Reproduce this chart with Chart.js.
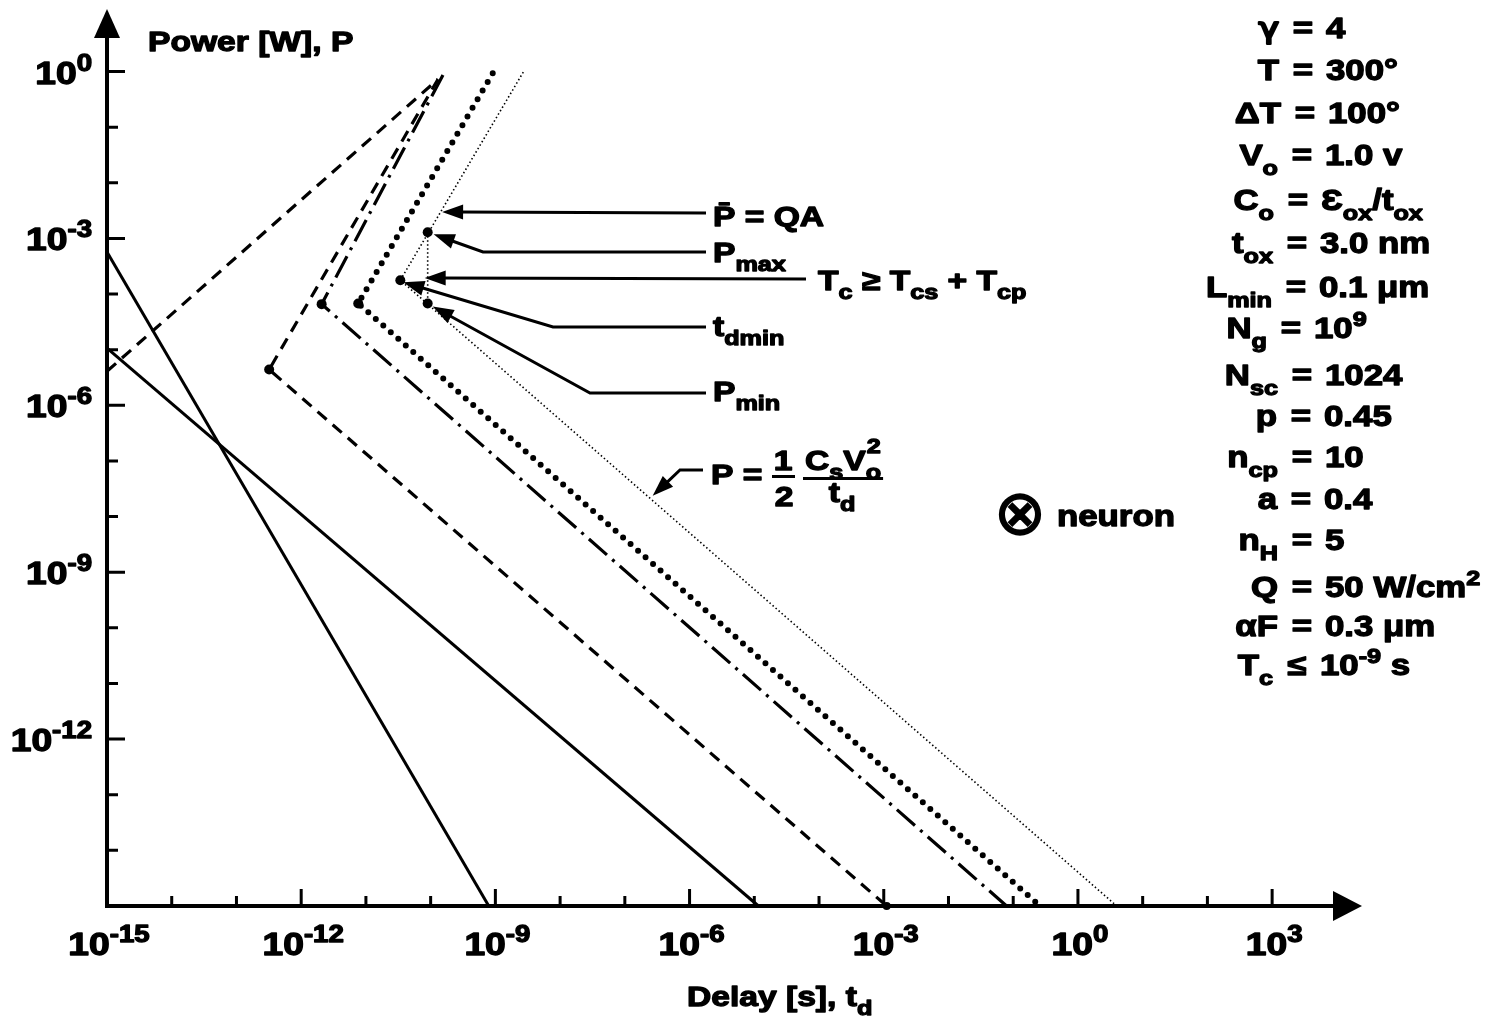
<!DOCTYPE html>
<html>
<head>
<meta charset="utf-8">
<title>Power versus delay</title>
<script src="https://cdn.jsdelivr.net/npm/chart.js@4.4.1/dist/chart.umd.min.js"></script>
<style>
  html, body { margin: 0; padding: 0; background: #fff; }
  canvas { display: block; }
</style>
</head>
<body>
<canvas id="chart" width="1491" height="1026"></canvas>
<script>
// ---- curves: delay t_d [s] against power P [W] ----
const steepDelay   = [1e-15, 7.9e-10];
const steepPower   = [5.7e-4, 1e-15];
const shallowDelay = [1e-15, 1.16e-5];
const shallowPower = [1.07e-5, 1e-15];
const riseDelay    = [1e-15, 1.3e-10];
const risePower    = [4.1e-6, 0.73];
const dashedDelay  = [1.3e-10, 3.2e-13, 1.11e-3];
const dashedPower  = [0.73, 4.4e-6, 1e-15];
const dashDotDelay = [1.55e-10, 2.07e-12, 7.9e-2];
const dashDotPower = [0.865, 6.6e-5, 1e-15];
const dottedDelay  = [9.1e-10, 7.6e-12, 0.26];
const dottedPower  = [0.93, 6.8e-5, 1e-15];
const fineDelay    = [2.7e-9, 3.4e-11, 3.97];
const finePower    = [0.98, 1.78e-4, 1e-15];
const boundDelay   = [9.0e-11, 9.0e-11];      // P_max and P_min
const boundPower   = [1.29e-3, 6.8e-5];

// ---- axis ticks ----
const xTickValues  = [1e-15, 1e-14, 1e-13, 1e-12, 1e-11, 1e-10, 1e-9, 1e-8, 1e-7, 1e-6,
                      1e-5, 1e-4, 1e-3, 1e-2, 1e-1, 1, 1e1, 1e2, 1e3];
const xLabelValues = [1e-15, 1e-12, 1e-9, 1e-6, 1e-3, 1, 1e3];
const xLabelExps   = ['-15', '-12', '-9', '-6', '-3', '0', '3'];
const yTickValues  = [1e-14, 1e-13, 1e-12, 1e-11, 1e-10, 1e-9, 1e-8, 1e-7, 1e-6,
                      1e-5, 1e-4, 1e-3, 1e-2, 1e-1, 1];
const yLabelValues = [1, 1e-3, 1e-6, 1e-9, 1e-12];
const yLabelExps   = ['0', '-3', '-6', '-9', '-12'];

// ---- parameter list (left side, relation, right side) ----
const paramLhs = [
  [['γ','greek']], [['T','n']], [['ΔT','n']], [['V','n'],['o','sub']], [['C','n'],['o','sub']],
  [['t','n'],['ox','sub']], [['L','n'],['min','sub']], [['N','n'],['g','sub']],
  [['N','n'],['sc','sub']], [['p','n']], [['n','n'],['cp','sub']], [['a','n']],
  [['n','n'],['H','sub']], [['Q','n']], [['αF','n']], [['T','n'],['c','sub']]
];
const paramOps = ['=','=','=','=','=','=','=','=','=','=','=','=','=','=','=','≤'];
const paramRhs = [
  [['4','n']], [['300°','n']], [['100°','n']], [['1.0 v','n']],
  [['Ɛ','n'],['ox','sub'],['/t','n'],['ox','sub']], [['3.0 nm','n']], [['0.1 μm','n']],
  [['10','n'],['9','sup']], [['1024','n']], [['0.45','n']], [['10','n']], [['0.4','n']],
  [['5','n']], [['50 W/cm','n'],['2','sup']], [['0.3 μm','n']], [['10','n'],['-9','sup'],[' s','n']]
];

// ---- layout of the text block and callouts (pixels) ----
const paramOpCenter = [1303, 1303, 1305, 1302, 1298, 1297, 1296, 1291, 1302, 1301, 1302, 1301, 1302, 1302, 1302, 1297];
const paramBaseline = [38, 80, 123, 165, 210, 253, 297, 338, 385, 426, 467, 509, 550, 597, 636, 675];

const callouts = [
  { text: [['P\u0304 = QA','n']], at: [713, 226], path: [[706, 213]], target: [1.4e-10, 3.0e-3], nudge: [2, 0] },
  { text: [['P','n'],['max','sub']], at: [713, 262], path: [[706, 252], [483, 252]], target: [9.0e-11, 1.29e-3], nudge: [6, 2] },
  { text: [['T','n'],['c','sub'],[' \u2265 T','n'],['cs','sub'],[' + T','n'],['cp','sub']], at: [818, 290], path: [[806, 279]], target: [9.0e-11, 1.95e-4], nudge: [-3, 0] },
  { text: [['t','n'],['dmin','sub']], at: [713, 336], path: [[706, 327], [553, 327]], target: [3.4e-11, 1.78e-4], nudge: [3, 2] },
  { text: [['P','n'],['min','sub']], at: [713, 401], path: [[706, 393], [590, 393]], target: [9.0e-11, 6.8e-5], nudge: [5, 3] },
  { text: null, at: null, path: [[703, 470], [680, 470]], target: [2.6e-7, 2.0e-8], nudge: [1, -4] }
];

const pts = (xs, ps) => xs.map((v, i) => ({ x: v, y: ps[i] }));

// ---- text helpers: heavy, slightly widened sans with sub/superscripts ----
const SX = 1.2;
function setFont(ctx, px, kind) {
  ctx.font = kind === 'greek'
    ? `${px}px "DejaVu Sans", sans-serif`
    : `bold ${px}px "Liberation Sans", Arial, Helvetica, sans-serif`;
}
function partSize(kind, F) { return kind === 'n' ? F : kind === 'greek' ? F : Math.round(F * 0.74); }
function partShift(kind, F) { return kind === 'sub' ? F * 0.33 : kind === 'sup' ? -F * 0.42 : 0; }
function richWidth(ctx, parts, F) {
  let w = 0;
  for (const [t, k] of parts) { setFont(ctx, partSize(k, F), k); w += ctx.measureText(t).width * SX; }
  return w;
}
function drawRich(ctx, parts, x, y, F, align) {
  const w = richWidth(ctx, parts, F);
  let cx = align === 'right' ? x - w : align === 'center' ? x - w / 2 : x;
  ctx.textAlign = 'left';
  ctx.textBaseline = 'alphabetic';
  for (const [t, k] of parts) {
    setFont(ctx, partSize(k, F), k);
    ctx.save();
    ctx.translate(cx, y + partShift(k, F));
    ctx.scale(SX, 1);
    ctx.lineWidth = k === 'greek' ? 2.2 : 1.3;
    ctx.lineJoin = 'round';
    ctx.fillText(t, 0, 0);
    ctx.strokeText(t, 0, 0);
    ctx.restore();
    cx += ctx.measureText(t).width * SX;
  }
  return w;
}
function arrowPath(ctx, points) {
  const n = points.length;
  const [tx, ty] = points[n - 1];
  const [px, py] = points[n - 2];
  const a = Math.atan2(ty - py, tx - px);
  const L = 21, H = 7.5;
  const c = Math.cos(a), s = Math.sin(a);
  ctx.beginPath();
  ctx.moveTo(points[0][0], points[0][1]);
  for (let i = 1; i < n - 1; i++) ctx.lineTo(points[i][0], points[i][1]);
  ctx.lineTo(tx - c * L * 0.8, ty - s * L * 0.8);
  ctx.stroke();
  ctx.beginPath();
  ctx.moveTo(tx, ty);
  ctx.lineTo(tx - L * c + H * s, ty - L * s - H * c);
  ctx.lineTo(tx - L * c - H * s, ty - L * s + H * c);
  ctx.closePath();
  ctx.fill();
}

// ---- axes, ticks, labels and callouts ----
const frame = {
  id: 'frame',
  afterDatasetsDraw(chart) {
    const { ctx, scales: { x, y } } = chart;
    const x0 = x.getPixelForValue(1e-15);
    const y0 = y.getPixelForValue(1e-15);
    ctx.save();
    ctx.fillStyle = '#000';
    ctx.strokeStyle = '#000';
    ctx.lineCap = 'butt';

    // axis lines with arrowheads
    ctx.lineWidth = 4;
    ctx.beginPath();
    ctx.moveTo(x0, y0 + 2);
    ctx.lineTo(x0, y.top + 20);
    ctx.moveTo(x0 - 2, y0);
    ctx.lineTo(x.right - 20, y0);
    ctx.stroke();
    ctx.beginPath();
    ctx.moveTo(x0, y.top - 1);
    ctx.lineTo(x0 - 13, y.top + 28);
    ctx.lineTo(x0 + 13, y.top + 28);
    ctx.closePath();
    ctx.fill();
    ctx.beginPath();
    ctx.moveTo(x.right + 1, y0);
    ctx.lineTo(x.right - 28, y0 - 15);
    ctx.lineTo(x.right - 28, y0 + 15);
    ctx.closePath();
    ctx.fill();

    // tick marks (inside the frame)
    ctx.lineWidth = 3;
    ctx.beginPath();
    for (const v of xTickValues) {
      if (v === 1e-15) continue;
      const px = x.getPixelForValue(v);
      const len = xLabelValues.includes(v) ? 17 : 10;
      ctx.moveTo(px, y0);
      ctx.lineTo(px, y0 - len);
    }
    for (const v of yTickValues) {
      const py = y.getPixelForValue(v);
      const len = yLabelValues.includes(v) ? 18 : 11;
      ctx.moveTo(x0, py);
      ctx.lineTo(x0 + len, py);
    }
    ctx.stroke();

    // tick labels
    xLabelValues.forEach((v, i) => {
      drawRich(ctx, [['10','n'], [xLabelExps[i],'sup']], x.getPixelForValue(v) + 2, y0 + 49, 31, 'center');
    });
    yLabelValues.forEach((v, i) => {
      drawRich(ctx, [['10','n'], [yLabelExps[i],'sup']], x0 - 15, y.getPixelForValue(v) + 12, 31, 'right');
    });

    // axis titles
    drawRich(ctx, [['Power [W], P','n']], 148, 51, 28, 'left');
    drawRich(ctx, [['Delay [s], t','n'], ['d','sub']], 687, 1006, 28, 'left');

    // parameter block
    paramLhs.forEach((lhs, i) => {
      const c = paramOpCenter[i], b = paramBaseline[i];
      drawRich(ctx, lhs, c - 24, b, 29, 'right');
      drawRich(ctx, [[paramOps[i],'n']], c, b, 29, 'center');
      drawRich(ctx, paramRhs[i], c + 23, b, 29, 'left');
    });

    // callouts
    for (const c of callouts) {
      const tip = [x.getPixelForValue(c.target[0]) + c.nudge[0], y.getPixelForValue(c.target[1]) + c.nudge[1]];
      ctx.lineWidth = 3;
      arrowPath(ctx, [...c.path, tip]);
      if (c.text) drawRich(ctx, c.text, c.at[0], c.at[1], 28, 'left');
    }

    // P = 1/2 * C_s V_o^2 / t_d
    drawRich(ctx, [['P =','n']], 711, 484, 28, 'left');
    drawRich(ctx, [['1','n']], 783, 470, 28, 'center');
    drawRich(ctx, [['2','n']], 784, 506, 28, 'center');
    ctx.fillRect(772, 475, 23, 3);
    let cx = 805;
    cx += drawRich(ctx, [['C','n'], ['s','sub'], ['V','n']], cx, 470, 28, 'left');
    const wo = drawRich(ctx, [['o','sub']], cx, 470, 28, 'left');
    drawRich(ctx, [['2','sup']], cx + 1, 465, 28, 'left');
    cx += wo;
    ctx.fillRect(803, 477, cx - 801, 3);
    drawRich(ctx, [['t','n'], ['d','sub']], (803 + cx) / 2, 502, 28, 'center');

    // neuron marker
    ctx.font = '62px "DejaVu Sans", sans-serif';
    ctx.textAlign = 'center';
    ctx.textBaseline = 'middle';
    ctx.lineWidth = 1.6;
    ctx.fillText('⊗', 1020, 518);
    ctx.strokeText('⊗', 1020, 518);
    drawRich(ctx, [['neuron','n']], 1057, 526, 29, 'left');

    ctx.restore();
  }
};

const solid   = { borderColor: '#000', borderWidth: 3, borderDash: [] };
const dashed  = { borderColor: '#000', borderWidth: 3.2, borderDash: [12, 8] };
const dashDot = { borderColor: '#000', borderWidth: 3.2, borderDash: [24, 7, 3, 7] };
const dotted  = { borderColor: '#000', borderWidth: 6, borderDash: [0, 10], borderCapStyle: 'round' };
const fine    = { borderColor: '#000', borderWidth: 1.6, borderDash: [1.5, 2.5] };

new Chart(document.getElementById('chart'), {
  type: 'scatter',
  data: {
    datasets: [
      { label: 'steep', data: pts(steepDelay, steepPower), ...solid, pointRadius: 0 },
      { label: 'shallow', data: pts(shallowDelay, shallowPower), ...solid, pointRadius: 0 },
      { label: 'rise', data: pts(riseDelay, risePower), ...dashed, pointRadius: 0 },
      { label: 'dashed', data: pts(dashedDelay, dashedPower), ...dashed, pointRadius: [0, 5, 4] },
      { label: 'dash-dot', data: pts(dashDotDelay, dashDotPower), ...dashDot, pointRadius: [0, 5, 0] },
      { label: 'dotted', data: pts(dottedDelay, dottedPower), ...dotted, pointRadius: [0, 5, 0] },
      { label: 'P = QA', data: pts(fineDelay, finePower), ...fine, pointRadius: [0, 5, 0] },
      { label: 'bounds', data: pts(boundDelay, boundPower), ...fine, pointRadius: [5, 5] }
    ].map(d => Object.assign(d, {
      showLine: true, fill: false, tension: 0, clip: false,
      pointBackgroundColor: '#000', pointBorderWidth: 0, pointHoverRadius: 0
    }))
  },
  options: {
    responsive: false,
    devicePixelRatio: 1,
    animation: false,
    events: [],
    layout: { padding: { left: 107, right: 130, top: 10, bottom: 120 } },
    plugins: { legend: { display: false }, tooltip: { enabled: false } },
    scales: {
      x: { type: 'logarithmic', min: 1e-15, max: 2.36e4, bounds: 'data', display: false },
      y: { type: 'logarithmic', min: 1e-15, max: 12.8, bounds: 'data', display: false }
    }
  },
  plugins: [frame]
});
</script>
</body>
</html>
